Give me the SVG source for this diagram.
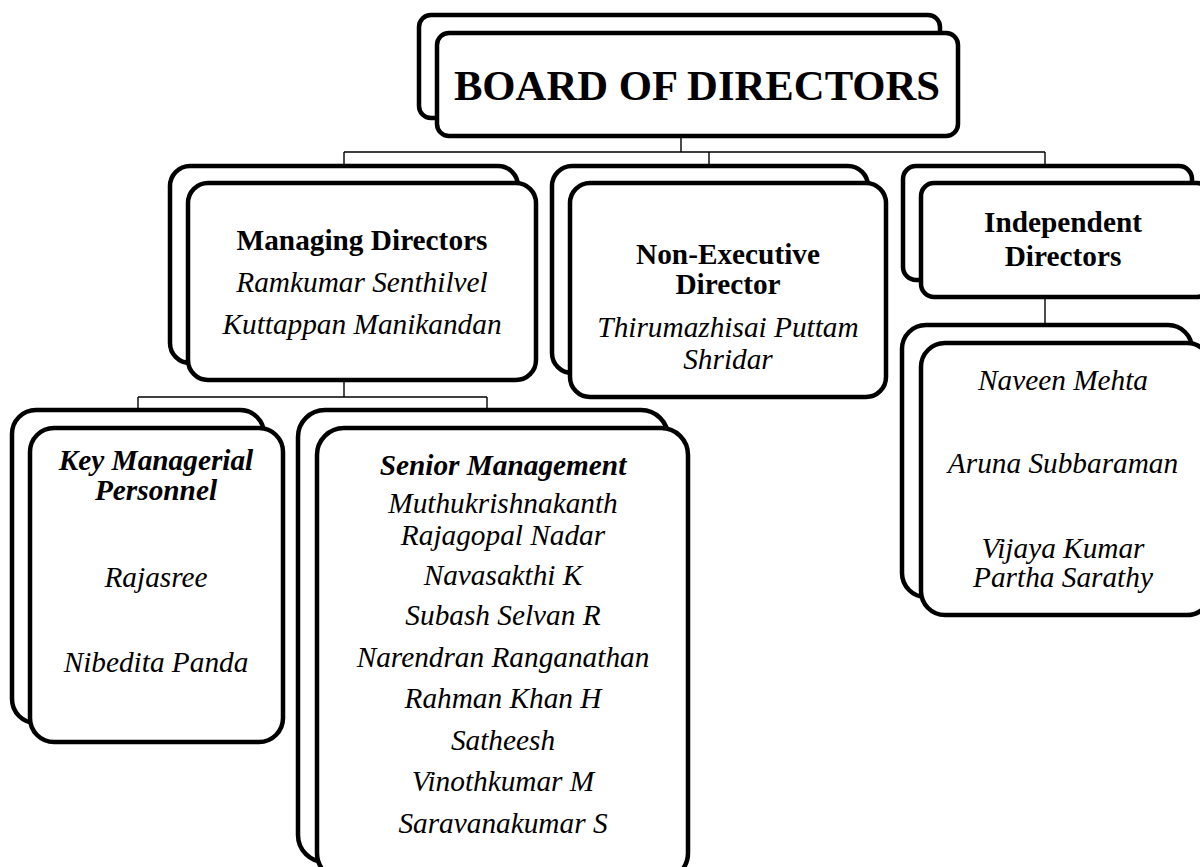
<svg xmlns="http://www.w3.org/2000/svg" width="1200" height="867" viewBox="0 0 1200 867">
<style>
.box{fill:#fff;stroke:#000;stroke-width:4.5}
.con{fill:none;stroke:#000;stroke-width:1.4}
text{font-family:"Liberation Serif","Times New Roman",serif;fill:#000;text-anchor:middle}
.t{font-size:42.7px;font-weight:bold}
.h{font-size:29.3px;font-weight:bold}
.hi{font-size:29.3px;font-weight:bold;font-style:italic}
.n{font-size:29.3px;font-style:italic}
</style>
<rect width="1200" height="867" fill="#fff"/>
<g id="connectors">
<path class="con" d="M681 136V152M344 152H1045M344 152V167M709 152V167M1045 152V167"/>
<path class="con" d="M344 380V397M138 397H487M138 397V411M487 397V411"/>
<path class="con" d="M1045 296V326"/>
</g>
<g id="board">
<rect class="box" x="419" y="15" width="521" height="103" rx="12"/>
<rect class="box" x="437" y="33" width="521" height="103" rx="12"/>
<text class="t" x="697" y="100">BOARD OF DIRECTORS</text>
</g>
<g id="managing">
<rect class="box" x="170" y="166" width="348" height="197" rx="20"/>
<rect class="box" x="188" y="183" width="348" height="197" rx="20"/>
<text class="h" x="362" y="250">Managing Directors</text>
<text class="n" x="362" y="292">Ramkumar Senthilvel</text>
<text class="n" x="362" y="334">Kuttappan Manikandan</text>
</g>
<g id="nonexec">
<rect class="box" x="552" y="166" width="316" height="207" rx="20"/>
<rect class="box" x="570" y="183" width="316" height="214" rx="20"/>
<text class="h" x="728" y="264">Non-Executive</text>
<text class="h" x="728" y="294">Director</text>
<text class="n" x="728" y="337">Thirumazhisai Puttam</text>
<text class="n" x="728" y="369">Shridar</text>
</g>
<g id="independent">
<rect class="box" x="903" y="166" width="289" height="114" rx="13"/>
<rect class="box" x="921" y="183" width="289" height="114" rx="13"/>
<text class="h" x="1063" y="232">Independent</text>
<text class="h" x="1063" y="266">Directors</text>
</g>
<g id="independent-names">
<rect class="box" x="902" y="325" width="290" height="272" rx="24"/>
<rect class="box" x="921" y="343" width="290" height="272" rx="24"/>
<text class="n" x="1063" y="390">Naveen Mehta</text>
<text class="n" x="1063" y="473">Aruna Subbaraman</text>
<text class="n" x="1063" y="558">Vijaya Kumar</text>
<text class="n" x="1063" y="587">Partha Sarathy</text>
</g>
<g id="kmp">
<rect class="box" x="12" y="410" width="252" height="313" rx="24"/>
<rect class="box" x="30" y="428" width="253" height="314" rx="24"/>
<text class="hi" x="156" y="470">Key Managerial</text>
<text class="hi" x="156" y="500">Personnel</text>
<text class="n" x="156" y="587">Rajasree</text>
<text class="n" x="156" y="672">Nibedita Panda</text>
</g>
<g id="senior">
<rect class="box" x="298" y="410" width="370" height="452" rx="27"/>
<rect class="box" x="317" y="428" width="371" height="452" rx="27"/>
<text class="hi" x="503" y="475">Senior Management</text>
<text class="n" x="503" y="513">Muthukrishnakanth</text>
<text class="n" x="503" y="545">Rajagopal Nadar</text>
<text class="n" x="503" y="585">Navasakthi K</text>
<text class="n" x="503" y="625">Subash Selvan R</text>
<text class="n" x="503" y="667">Narendran Ranganathan</text>
<text class="n" x="503" y="708">Rahman Khan H</text>
<text class="n" x="503" y="750">Satheesh</text>
<text class="n" x="503" y="791">Vinothkumar M</text>
<text class="n" x="503" y="833">Saravanakumar S</text>
</g>
</svg>
